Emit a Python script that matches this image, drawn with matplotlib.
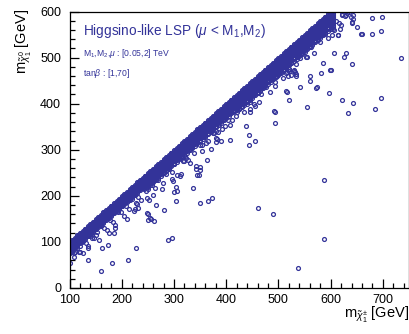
import matplotlib
matplotlib.use('Agg')
import matplotlib.pyplot as plt
from matplotlib.ticker import MultipleLocator

plt.rcParams['font.family'] = ['Liberation Sans', 'DejaVu Sans']
plt.rcParams['mathtext.fontset'] = 'custom'
plt.rcParams['mathtext.rm'] = 'Liberation Sans'
plt.rcParams['mathtext.it'] = 'Liberation Sans:italic'
plt.rcParams['mathtext.bf'] = 'Liberation Sans:bold'

COLOR = '#333399'

# ---- data: chargino mass (x) vs neutralino mass (y), GeV ----
# dense near-degenerate band: chargino masses and mass splittings
band_mc = [90, 95, 100, 105, 110, 115, 120, 125, 130, 135, 140, 145, 150, 155, 160,
           165, 170, 175, 180, 185, 190, 195, 200, 205, 210, 215, 220, 225, 230, 235,
           240, 245, 250, 255, 260, 265, 270, 275, 280, 285, 290, 295, 300, 305, 310,
           315, 320, 325, 330, 335, 340, 345, 350, 355, 360, 365, 370, 375, 380, 385,
           390, 395, 400, 405, 410, 415, 420, 425, 430, 435, 440, 445, 450, 455, 460,
           465, 470, 475, 480, 485, 490, 495, 500, 505, 510, 515, 520, 525, 530, 535,
           540, 545, 550, 555, 560, 565, 570, 575, 580, 585, 590, 595, 600, 605]
band_split = [1, 3, 5, 7, 9, 11, 13, 15, 17, 19, 21, 23]

band_hi_mc = [250, 255, 260, 265, 270, 275, 280, 285, 290, 295, 300, 305, 310, 315,
              320, 325, 330, 335, 340, 345, 350, 355, 360, 365, 370, 375, 380, 385,
              390, 395, 400, 405, 410, 415, 420, 425, 430, 435, 440, 445, 450, 455,
              460, 465, 470, 475, 480, 485, 490, 495, 500, 505, 510, 515, 520, 525,
              530, 535, 540, 545, 550, 555, 560, 565, 570, 575, 580, 585, 590, 595,
              600, 605]
band_hi_split = [25, 28, 31]

band_top_mc = [420, 425, 430, 435, 440, 445, 450, 455, 460, 465, 470, 475, 480, 485,
               490, 495, 500, 505, 510, 515, 520, 525, 530, 535, 540, 545, 550, 555,
               560, 565, 570, 575, 580, 585, 590, 595, 600, 605]
band_top_split = [34, 37]

# fringe of the band (chargino mass, neutralino mass)
fringe_mc = [104, 109, 114, 120, 124, 131, 135, 140, 147, 152, 156, 161, 167, 171, 177,
             183, 188, 193, 199, 204, 209, 214, 220, 226, 231, 236, 242, 247, 253, 258,
             263, 269, 274, 279, 285, 290, 296, 301, 306, 311, 317, 322, 327, 333, 338,
             344, 349, 354, 360, 365, 371, 376, 381, 387, 392, 397, 403, 408, 413, 419,
             424, 429, 435, 440, 445, 451, 456, 461, 467, 472, 477, 483, 488, 493, 499,
             504, 509, 515, 520, 525, 531, 536, 541, 547, 552, 557, 563, 568, 573, 579,
             584, 589, 595, 600, 605, 611, 616, 622, 627, 632]
fringe_mn = [78, 75, 86, 79, 99, 98, 87, 113, 108, 122, 104, 135, 131, 126, 148,
             143, 130, 166, 164, 157, 179, 172, 194, 171, 198, 192, 214, 210, 191, 228,
             217, 235, 247, 227, 247, 261, 251, 268, 246, 283, 276, 287, 277, 303, 294,
             317, 311, 297, 328, 319, 342, 336, 316, 353, 344, 369, 364, 353, 382, 374,
             388, 400, 383, 407, 403, 421, 395, 424, 420, 441, 437, 425, 454, 448, 470,
             466, 456, 483, 476, 489, 468, 506, 499, 512, 502, 528, 523, 511, 540, 533,
             554, 551, 543, 566, 561, 580, 576, 594, 591, 597]

# isolated scan points
scan_mc = [734, 679, 698, 696, 679, 660, 650, 640, 629, 625, 606, 585, 598, 581, 560,
           560, 571, 596, 542, 514, 521, 554, 621, 642, 696, 684, 633, 491, 494, 473,
           479, 642, 640, 636, 629, 621, 617, 615, 600, 588, 587, 537, 460, 489, 366,
           230, 266, 303, 281, 251, 251, 256, 262, 224, 210, 187, 185, 176, 289, 297,
           174, 228, 162, 182, 212, 160, 136, 101, 126, 118, 111, 109, 136, 120, 101,
           151, 141, 143, 249, 228, 231, 255, 350, 372, 249, 260, 278, 235, 241, 303,
           305, 301, 337, 258, 251, 297, 299, 312, 314, 345, 350, 331, 343, 320, 324,
           364, 370, 354, 362, 381, 385, 374, 343, 347, 349, 443, 456, 443, 408, 391,
           383, 381, 397, 437, 493, 493, 439, 454, 462, 445, 446, 412, 517, 498, 573,
           514, 519, 533, 529, 521, 533, 554, 615, 619, 640, 638, 642, 598, 604, 606,
           602, 658, 512, 520, 530, 525, 534, 516]
scan_mn = [500, 585, 589, 557, 552, 552, 567, 485, 509, 502, 509, 489, 472, 467, 461,
           450, 433, 424, 437, 428, 407, 393, 407, 402, 413, 389, 380, 385, 439, 439,
           448, 583, 578, 598, 593, 593, 563, 548, 474, 235, 107, 43, 174, 161, 189,
           183, 180, 189, 170, 161, 148, 150, 146, 167, 150, 137, 120, 120, 104, 109,
           93, 87, 87, 54, 61, 37, 61, 54, 76, 78, 78, 67, 91, 91, 78,
           115, 117, 109, 163, 185, 174, 152, 185, 196, 196, 202, 215, 220, 217, 220,
           211, 209, 217, 224, 215, 237, 233, 243, 248, 246, 257, 272, 265, 276, 283,
           278, 302, 311, 315, 326, 339, 337, 259, 246, 263, 311, 320, 333, 322, 320,
           324, 341, 352, 352, 357, 383, 400, 400, 404, 389, 383, 365, 426, 461, 437,
           467, 461, 459, 474, 476, 485, 502, 550, 570, 576, 587, 593, 572, 567, 559,
           548, 552, 480, 471, 471, 462, 464, 468]

# ---- figure ----
fig = plt.figure(figsize=(4.10, 3.34), dpi=100)
ax = fig.add_axes([69.5 / 410, 1 - 288 / 334, (409 - 69.5) / 410, (288 - 11.5) / 334])

mk = dict(linestyle='none', marker='o', mfc='none', mec=COLOR, ms=2.8, mew=0.9)
for d in band_split:
    ax.plot(band_mc, [m - d for m in band_mc], **mk)
for d in band_hi_split:
    ax.plot(band_hi_mc, [m - d for m in band_hi_mc], **mk)
for d in band_top_split:
    ax.plot(band_top_mc, [m - d for m in band_top_mc], **mk)
ax.plot(fringe_mc, fringe_mn, **mk)
ax.plot(scan_mc, scan_mn, **mk)

ax.set_xlim(100, 750)
ax.set_ylim(0, 600)
ax.xaxis.set_major_locator(MultipleLocator(100))
ax.xaxis.set_minor_locator(MultipleLocator(20))
ax.yaxis.set_major_locator(MultipleLocator(100))
ax.yaxis.set_minor_locator(MultipleLocator(20))
ax.tick_params(which='both', direction='in', top=False, right=False,
               labelsize=9, width=0.9, colors='black')
ax.tick_params(which='major', length=6.5)
ax.tick_params(which='minor', length=3.6)
ax.tick_params(axis='y', pad=6)
ax.tick_params(axis='x', pad=4.5)
for s in ax.spines.values():
    s.set_linewidth(0.9)

ax.text(83 / 410, 1 - 34.5 / 334, r'Higgsino-like LSP ($\mu$ < M$_{1}$,M$_{2}$)',
        transform=fig.transFigure, color=COLOR, fontsize=9.8, ha='left', va='baseline')
ax.text(83 / 410, 1 - 56.5 / 334, r'M$_{1}$,M$_{2}$,$\mu$ : [0.05,2] TeV',
        transform=fig.transFigure, color=COLOR, fontsize=6.2, ha='left', va='baseline')
ax.text(83 / 410, 1 - 75.5 / 334, r'tan$\beta$ : [1,70]',
        transform=fig.transFigure, color=COLOR, fontsize=6.2, ha='left', va='baseline')

fig.text(409 / 410, 16 / 334, r'm$_{\tilde{\chi}^{\pm}_{1}}$ [GeV]', fontsize=10.5,
         ha='right', va='baseline')
fig.text(24 / 410, 1 - 9 / 334, r'm$_{\tilde{\chi}^{0}_{1}}$ [GeV]', fontsize=10.5,
         ha='center', va='top', rotation=90)

fig.savefig('out.png', dpi=100)
